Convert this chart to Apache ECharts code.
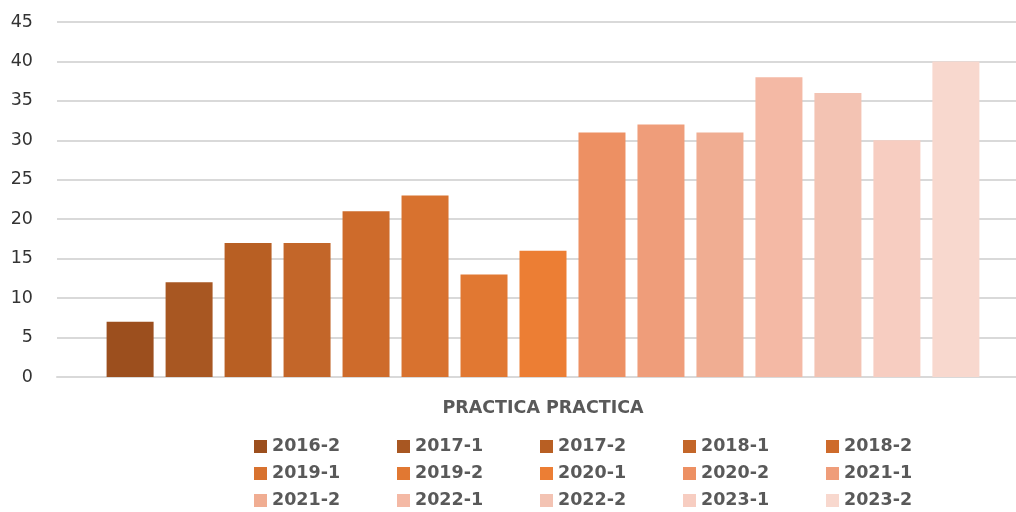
<!DOCTYPE html>
<html>
<head>
<meta charset="utf-8">
<script src="https://cdn.jsdelivr.net/npm/echarts@6/dist/echarts.min.js"></script>
<style>html,body{margin:0;padding:0;background:#fff;overflow:hidden;width:1016px;height:512px}#c{width:1029px;height:512px}</style>
</head>
<body>
<div id="c"></div>
<script>
var categories = ['PRACTICA PRACTICA'];
var seriesNames = ['2016-2','2017-1','2017-2','2018-1','2018-2','2019-1','2019-2','2020-1','2020-2','2021-1','2021-2','2022-1','2022-2','2023-1','2023-2'];
var seriesValues = [7, 12, 17, 17, 21, 23, 13, 16, 31, 32, 31, 38, 36, 30, 40];
var seriesColors = ['#9C4F1E','#A85722','#B85F23','#C36629','#CE6B2B','#D8722F','#E17832','#EC7E34','#ED9063','#EF9D7A','#F0AD92','#F4B9A5','#F3C3B3','#F7CDC1','#F8D8CE'];
var yTicks = { min: 0, max: 45, interval: 5 };

var chart = echarts.init(document.getElementById('c'), null, { renderer: 'canvas' });
var font = 'DejaVu Sans';
var textGrey = '#595959';

var series = seriesNames.map(function (name, i) {
  return {
    name: name,
    type: 'bar',
    data: [seriesValues[i]],
    barWidth: 47,
    barGap: '25.5%',
    itemStyle: { color: seriesColors[i] },
    emphasis: { disabled: true }
  };
});

function legendRow(rowIdx) {
  return {
    data: seriesNames.slice(rowIdx * 5, rowIdx * 5 + 5),
    left: 254,
    top: 436.5 + rowIdx * 27,
    orient: 'horizontal',
    padding: 0,
    itemWidth: 13,
    itemHeight: 13,
    itemGap: 25,
    icon: 'rect',
    selectedMode: false,
    textStyle: {
      fontFamily: font, fontWeight: 'bold', fontSize: 17.5, color: textGrey,
      width: 100, lineHeight: 20, overflow: 'none'
    }
  };
}

chart.setOption({
  animation: false,
  backgroundColor: '#ffffff',
  grid: { left: 57, right: 0, top: 22, bottom: 135, containLabel: false },
  legend: [legendRow(0), legendRow(1), legendRow(2)],
  xAxis: {
    type: 'category',
    data: categories,
    axisLine: { show: true, lineStyle: { color: '#d9d9d9', width: 2 } },
    axisTick: { show: false },
    axisLabel: {
      fontFamily: font, fontWeight: 'bold', fontSize: 17.5, color: textGrey,
      margin: 21, lineHeight: 20
    },
    splitLine: { show: false }
  },
  yAxis: {
    type: 'value',
    min: yTicks.min, max: yTicks.max, interval: yTicks.interval,
    axisLine: { show: false },
    axisTick: { show: false },
    axisLabel: { fontFamily: font, fontSize: 17.5, color: '#333333', margin: 24 },
    splitLine: { show: true, lineStyle: { color: '#d9d9d9', width: 2 } }
  },
  series: series
});
</script>
</body>
</html>
